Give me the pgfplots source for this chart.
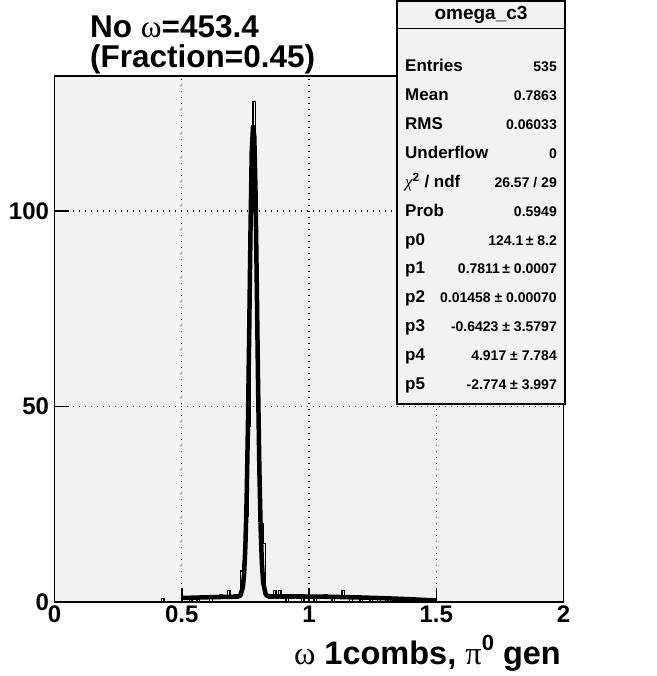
\documentclass[border=0pt]{standalone}
\usepackage{pgfplots}
\pgfplotsset{compat=1.18}
\usepackage{fontspec}
\setmainfont{Liberation Sans}
\newfontfamily\grk{Liberation Serif}
\definecolor{rootbg}{RGB}{242,242,242}
\begin{document}
\begin{tikzpicture}[x=1pt,y=1pt]
\useasboundingbox (0,0) rectangle (656,676);
\fill[white] (0,0) rectangle (656,676);
\begin{axis}[
  at={(54.5pt,73.6pt)}, anchor=south west,
  scale only axis, width=509pt, height=526.4pt,
  xmin=0, xmax=2, ymin=0, ymax=134.5,
  axis background/.style={fill=rootbg},
  xtick={0,0.5,1,1.5,2}, xticklabels={0,0.5,1,1.5,2},
  ytick={0,50,100}, yticklabels={0,50,100},
  xtick pos=bottom, ytick pos=left,
  grid=major,
  major grid style={black, line width=1.3pt, dash pattern=on 1.5pt off 4.5pt},
  tick align=inside, major tick length=14pt,
  tick style={black, line width=1.5pt},
  axis line style={line width=1.8pt},
  ticklabel style={font=\bfseries\fontsize{24}{24}\selectfont},
  xticklabel style={yshift=0pt},
  yticklabel style={xshift=-2pt},
]
\addplot[const plot, black, line width=1.5pt] coordinates {
(0.41,0) (0.42,1) (0.43,0) (0.50,1) (0.51,1) (0.52,1) (0.53,0) (0.54,1) (0.55,1) (0.56,0) (0.57,1) (0.58,1) (0.59,1)
(0.60,1) (0.61,0) (0.62,1) (0.63,1) (0.64,1) (0.65,2) (0.66,1) (0.67,1) (0.68,3) (0.69,1)
(0.70,1) (0.71,2) (0.72,2) (0.73,8) (0.74,10) (0.75,22) (0.76,45) (0.77,100) (0.78,128) (0.79,85)
(0.80,40) (0.81,20) (0.82,15) (0.83,2) (0.84,1) (0.85,1) (0.86,3) (0.87,1) (0.88,3) (0.89,1)
(0.90,1) (0.91,0) (0.92,1) (0.93,1) (0.94,2) (0.95,1) (0.96,1) (0.97,0) (0.98,1) (0.99,1)
(1.00,1) (1.01,1) (1.02,0) (1.03,1) (1.04,1) (1.05,1) (1.06,2) (1.07,1) (1.08,1) (1.09,0)
(1.10,1) (1.11,1) (1.12,1) (1.13,3) (1.14,1) (1.15,1) (1.16,0) (1.17,1) (1.18,1) (1.19,1)
(1.20,0) (1.21,1) (1.22,1) (1.23,1) (1.24,0) (1.25,1) (1.26,1) (1.27,0) (1.28,1) (1.29,1)
(1.30,0) (1.31,1) (1.32,0) (1.33,1) (1.34,1) (1.35,0) (1.36,1) (1.37,0) (1.38,1) (1.39,0)
(1.40,1) (1.41,0) (1.42,1) (1.43,0) (1.44,0) (1.45,1) (1.46,0) (1.47,0) (1.48,1) (1.49,0) (1.50,0)
};
\addplot[black, line width=4.5pt, line join=round] coordinates {
(0.50,1.12) (0.60,1.31) (0.70,1.44) (0.72,1.48) (0.73,1.74) (0.74,3.82) (0.745,7.27)
(0.75,14.25) (0.755,26.5) (0.76,45.1) (0.765,68.9) (0.77,94.4) (0.775,115.2) (0.78,121.5)
(0.785,119.0) (0.79,104.5) (0.795,80.3) (0.80,55.1) (0.805,33.9) (0.81,18.9) (0.815,9.83)
(0.82,5.05) (0.83,1.97) (0.84,1.57) (0.85,1.53) (0.90,1.54) (1.00,1.50) (1.10,1.41)
(1.20,1.26) (1.30,1.06) (1.40,0.80) (1.50,0.49)
};
\end{axis}
% title
\node[anchor=base west, inner sep=0pt, font=\bfseries\fontsize{31.5}{31.5}\selectfont] at (90,638) {No {\mdseries\grk ω}=453.4};
\node[anchor=base west, inner sep=0pt, font=\bfseries\fontsize{31.5}{31.5}\selectfont] at (90,608) {(Fraction=0.45)};
% x axis title
\node[anchor=base east, inner sep=0pt, font=\bfseries\fontsize{32.5}{32.5}\selectfont] at (561,11) {{\mdseries\grk ω} 1combs, {\mdseries\grk π}\raisebox{0.45em}{\fontsize{22}{22}\selectfont 0} gen};
% stats box
\filldraw[fill=rootbg, draw=black, line width=1.5pt] (397,272) rectangle (565,675);
\draw[black, line width=1pt] (397,647) -- (565,647);
\node[font=\bfseries\fontsize{19}{19}\selectfont, inner sep=0pt] at (481,661) {omega\_c3};
\foreach \lab/\val [count=\i from 0] in {Entries/535, Mean/0.7863, RMS/0.06033, Underflow/0, {{\mdseries\grk\itshape χ}\textsuperscript{2} / ndf}/{26.57 / 29}, Prob/0.5949, p0/{124.1$\,$± 8.2}, p1/{0.7811$\,$± 0.0007}, p2/{0.01458 ± 0.00070}, p3/{-0.6423 ± 3.5797}, p4/{4.917 ± 7.784}, p5/{-2.774 ± 3.997}} {
  \node[anchor=base west, inner sep=0pt, font=\bfseries\fontsize{17}{17}\selectfont] at (405,{604-28.85*\i}) {\lab};
  \node[anchor=base east, inner sep=0pt, font=\bfseries\fontsize{14}{14}\selectfont] at (557,{604-28.85*\i}) {\val};
}
\end{tikzpicture}
\end{document}
